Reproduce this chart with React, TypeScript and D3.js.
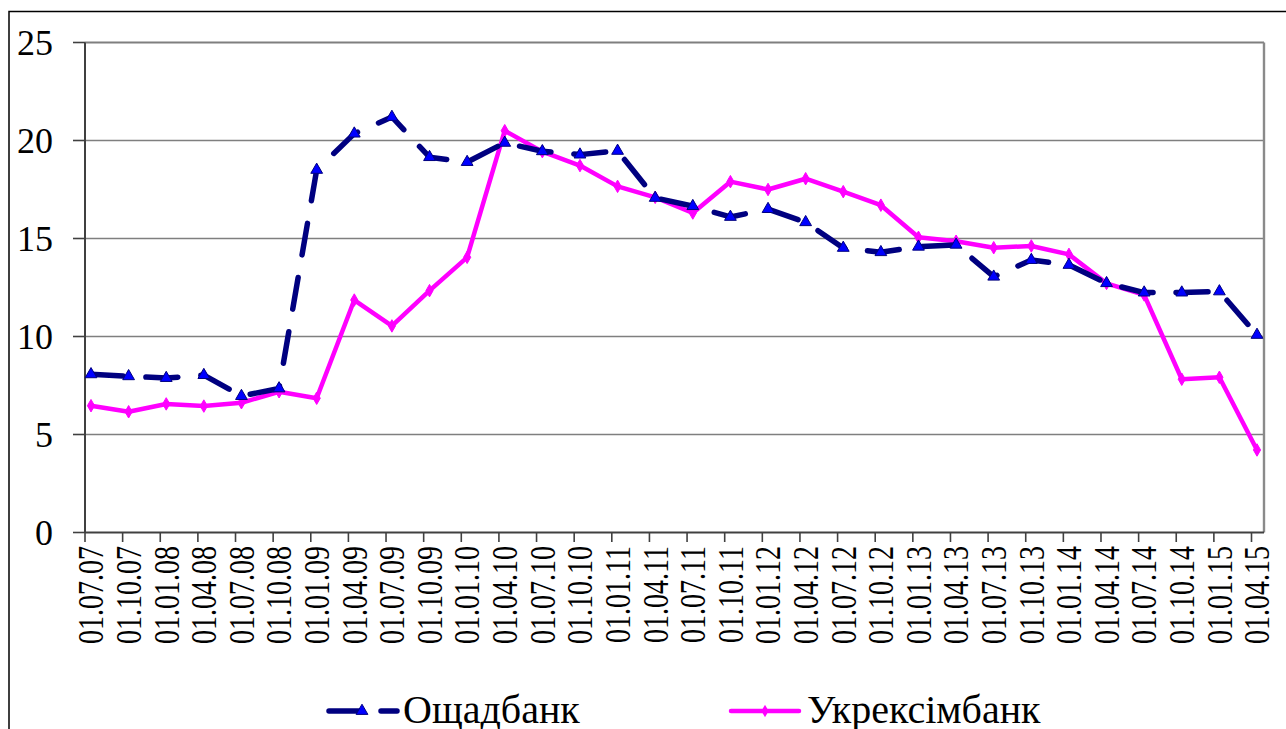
import React from "react";
import * as d3 from "d3";

const categories = [
  "01.07.07", "01.10.07", "01.01.08", "01.04.08", "01.07.08", "01.10.08",
  "01.01.09", "01.04.09", "01.07.09", "01.10.09", "01.01.10", "01.04.10",
  "01.07.10", "01.10.10", "01.01.11", "01.04.11", "01.07.11", "01.10.11",
  "01.01.12", "01.04.12", "01.07.12", "01.10.12", "01.01.13", "01.04.13",
  "01.07.13", "01.10.13", "01.01.14", "01.04.14", "01.07.14", "01.10.14",
  "01.01.15", "01.04.15",
];

const oshchadbank = [
  8.07, 7.97, 7.88, 8.03, 6.96, 7.35, 18.5, 20.35, 21.2, 19.15, 18.9, 19.88,
  19.45, 19.28, 19.47, 17.07, 16.65, 16.1, 16.5, 15.83, 14.52, 14.3, 14.58, 14.68,
  13.05, 13.9, 13.65, 12.72, 12.24, 12.24, 12.3, 10.08,
];

const ukreximbank = [
  6.47, 6.16, 6.56, 6.45, 6.62, 7.18, 6.85, 11.86, 10.54, 12.34, 14.04, 20.5,
  19.43, 18.72, 17.66, 17.1, 16.3, 17.9, 17.5, 18.05, 17.39, 16.7, 15.06, 14.86,
  14.53, 14.62, 14.19, 12.71, 12.12, 7.82, 7.92, 4.21,
];

const yTicks = [0, 5, 10, 15, 20, 25];
const seriesNames = ["Ощадбанк", "Укрексімбанк"];

const W = 1286;
const H = 729;
const plotLeft = 85;
const plotRight = 1264;
const plotTop = 42.5;
const plotBottom = 532.5;
const font = "'Liberation Serif', 'Times New Roman', serif";

export default function App() {
  const x = d3.scalePoint<string>().domain(categories).range([91, 1257]);
  const tickX = d3.scalePoint<string>().domain(categories).range([85, 1251.5]);
  const y = d3.scaleLinear().domain([0, 25]).range([plotBottom, plotTop]);

  const line = d3
    .line<number>()
    .x((_, i) => x(categories[i]) as number)
    .y((d) => y(d));

  const tri = d3.symbol().type(d3.symbolTriangle).size(60)();
  const diamond = d3.symbol().type(d3.symbolDiamond).size(45)();

  return (
    <svg width={W} height={H} style={{ position: "absolute", left: 0, top: 0, display: "block", background: "#fff" }}>
      <rect x={0} y={0} width={W} height={H} fill="#fff" />
      {/* outer frame */}
      <rect x={9} y={11.5} width={1300} height={740} fill="none" stroke="#000" strokeWidth={1.5} />

      {/* gridlines */}
      {yTicks.map((t) =>
        t === 0 ? null : (
          <line key={"g" + t} x1={plotLeft} x2={plotRight} y1={y(t)} y2={y(t)} stroke="#7f7f7f" strokeWidth={t === 25 ? 2.2 : 1.6} />
        )
      )}
      <line x1={plotRight} x2={plotRight} y1={plotTop} y2={plotBottom} stroke="#8a8a8a" strokeWidth={2.4} />

      {/* y axis */}
      <line x1={plotLeft} x2={plotLeft} y1={plotTop} y2={plotBottom} stroke="#404040" strokeWidth={2} />
      {yTicks.map((t) => (
        <g key={"yt" + t}>
          <line x1={73} x2={plotLeft} y1={y(t)} y2={y(t)} stroke="#404040" strokeWidth={1.6} />
          <text x={53} y={y(t)} textAnchor="end" dominantBaseline="central" fontSize={36} fill="#000" style={{ fontFamily: font }}>
            {t}
          </text>
        </g>
      ))}

      {/* x axis */}
      <line x1={plotLeft} x2={plotRight} y1={plotBottom} y2={plotBottom} stroke="#404040" strokeWidth={2} />
      {categories.map((c) => (
        <g key={"xt" + c}>
          <line x1={tickX(c) as number} x2={tickX(c) as number} y1={plotBottom} y2={plotBottom + 9.5} stroke="#404040" strokeWidth={1.6} />
          <text
            transform={`translate(${x(c)}, 546) rotate(-90) scale(1, 1.3)`}
            textAnchor="end"
            dominantBaseline="central"
            fontSize={28}
            fill="#000"
            style={{ fontFamily: font }}
          >
            {c}
          </text>
        </g>
      ))}

      {/* Ukreximbank */}
      <path d={line(ukreximbank) as string} fill="none" stroke="#ff00ff" strokeWidth={4.5} strokeLinejoin="round" />
      {ukreximbank.map((v, i) => (
        <path key={"u" + i} d={diamond as string} transform={`translate(${x(categories[i])}, ${y(v)})`} fill="#ff00ff" stroke="#ff00ff" strokeWidth={1} />
      ))}

      {/* Oshchadbank */}
      <path
        d={line(oshchadbank) as string}
        fill="none"
        stroke="#000080"
        strokeWidth={5.5}
        strokeDasharray="32 23"
        strokeLinecap="round"
        strokeLinejoin="round"
      />
      {oshchadbank.map((v, i) => (
        <path key={"o" + i} d={tri as string} transform={`translate(${x(categories[i])}, ${y(v)})`} fill="#0000ff" stroke="#000080" strokeWidth={1} />
      ))}

      {/* legend */}
      <g>
        <line x1={329} x2={397} y1={711} y2={711} stroke="#000080" strokeWidth={5.5} strokeDasharray="32 20" strokeLinecap="round" />
        <path d={tri as string} transform="translate(362, 711)" fill="#0000ff" stroke="#000080" strokeWidth={1} />
        <text x={403} y={723} fontSize={40} fill="#000" style={{ fontFamily: font }}>{seriesNames[0]}</text>
        <line x1={731} x2={799} y1={711} y2={711} stroke="#ff00ff" strokeWidth={4.5} strokeLinecap="round" />
        <path d={diamond as string} transform="translate(765, 711)" fill="#ff00ff" />
        <text x={807} y={723} fontSize={40} fill="#000" style={{ fontFamily: font }}>{seriesNames[1]}</text>
      </g>
    </svg>
  );
}
